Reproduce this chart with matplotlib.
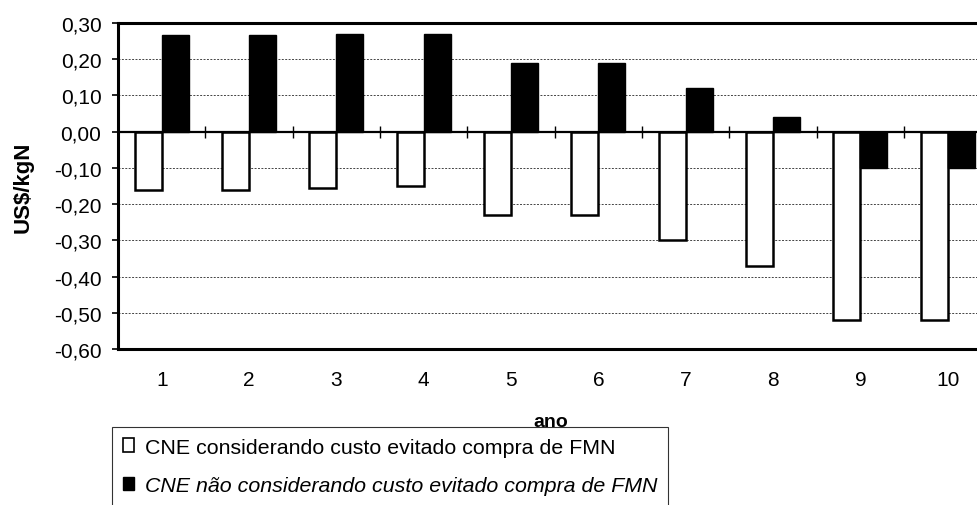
import numpy as np
import matplotlib.pyplot as plt
from matplotlib.patches import Patch

plt.rcParams['font.family'] = ['Liberation Sans', 'DejaVu Sans']

# CNE (US$/kgN) por ano
anos = ['1', '2', '3', '4', '5', '6', '7', '8', '9', '10']
cne_com_custo = [-0.16, -0.16, -0.155, -0.15, -0.23, -0.23, -0.30, -0.37, -0.52, -0.52]
cne_sem_custo = [0.267, 0.267, 0.27, 0.27, 0.19, 0.19, 0.12, 0.04, -0.10, -0.10]
yticks = [0.30, 0.20, 0.10, 0.00, -0.10, -0.20, -0.30, -0.40, -0.50, -0.60]

fig = plt.figure(figsize=(9.78, 5.06), dpi=100)
ax = fig.add_axes([0.1207, 0.308, 0.893, 0.645])

x = np.arange(len(anos))
w = 0.31
ax.bar(x - w / 2, cne_com_custo, w, color='white', edgecolor='black', linewidth=1.8, zorder=3)
ax.bar(x + w / 2, cne_sem_custo, w, color='black', edgecolor='black', linewidth=1.0, zorder=3)

ax.set_xlim(-0.5, len(anos) - 0.5)
ax.set_ylim(-0.60, 0.30)
ax.set_yticks(yticks)
ax.set_yticklabels([f'{v:.2f}'.replace('.', ',') for v in yticks], fontsize=15)
ax.set_xticks(x)
ax.set_xticklabels(anos, fontsize=15)
ax.tick_params(axis='x', length=0, pad=15)
ax.tick_params(axis='y', direction='out', length=4, width=1.2, pad=8)

ax.yaxis.grid(True, linestyle=(0, (2, 1.5)), color='#444444', linewidth=0.7, zorder=0)
for side in ['left', 'top', 'bottom']:
    ax.spines[side].set_linewidth(2.2)
ax.spines['right'].set_visible(False)

# linha do zero com marcas entre os anos
ax.axhline(0, color='black', linewidth=1.6, zorder=4)
eixo0 = ax.secondary_xaxis(0.6 / 0.9)
eixo0.set_xticks(x[:-1] + 0.5)
eixo0.set_xticklabels([])
eixo0.tick_params(direction='inout', length=9, width=1.0)
eixo0.spines['bottom'].set_visible(False)
eixo0.spines['top'].set_visible(False)

ax.set_ylabel('US$/kgN', fontsize=16, fontweight='bold')
ax.yaxis.set_label_coords(-0.097, 0.5)
fig.text(0.5634, 0.166, 'ano', fontsize=14, fontweight='bold', ha='center', va='center')

# a caixa da legenda continua abaixo da borda da figura
handles = [Patch(facecolor='white', edgecolor='black', linewidth=1.2),
           Patch(facecolor='black', edgecolor='black'),
           Patch(visible=False)]
labels = ['CNE considerando custo evitado compra de FMN',
          'CNE não considerando custo evitado compra de FMN',
          ' ']
leg = fig.legend(handles, labels, loc='upper left', bbox_to_anchor=(0.1145, 0.154),
                 fontsize=15.4, frameon=True, fancybox=False, edgecolor='black',
                 handlelength=0.55, handleheight=0.6, handletextpad=0.5,
                 labelspacing=0.9, borderpad=0.5, borderaxespad=0)
leg.get_frame().set_linewidth(0.8)
leg.get_texts()[1].set_style('italic')

fig.savefig('out.png', dpi=100)
